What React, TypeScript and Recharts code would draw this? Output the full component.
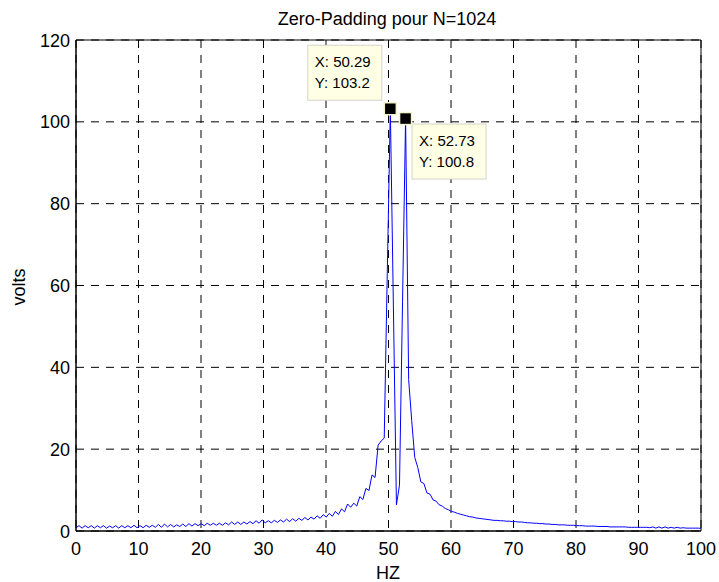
import { LineChart, Line, XAxis, YAxis, CartesianGrid, ReferenceDot, ReferenceArea } from "recharts";

// spectre FFT zero-padding, fs = 500 Hz, N = 1024 -> pas de 0.488 Hz
const FS = 500;
const N = 1024;
const HZ_STEP = FS / N;

const VOLTS = [
  0.8, 1.3, 0.7, 1.3, 0.8, 1.3, 0.7, 1.3, 0.8, 1.3,
  0.7, 1.2, 0.8, 1.3, 0.7, 1.3, 0.8, 1.3, 0.8, 1.4,
  0.8, 1.3, 0.8, 1.4, 0.9, 1.4, 0.9, 1.6, 0.9, 1.7,
  1.0, 1.6, 1.0, 1.5, 1.1, 1.7, 1.1, 1.8, 1.2, 1.8,
  1.3, 1.8, 1.3, 1.9, 1.4, 1.9, 1.4, 1.9, 1.4, 2.0,
  1.5, 2.2, 1.6, 2.2, 1.6, 2.2, 1.7, 2.3, 1.8, 2.5,
  1.9, 2.7, 2.0, 2.5, 2.0, 2.6, 2.1, 2.7, 2.2, 2.9,
  2.3, 3.0, 2.4, 3.1, 2.6, 3.3, 2.7, 3.4, 2.9, 3.7,
  3.1, 4.0, 3.4, 4.3, 3.6, 4.8, 4.0, 5.4, 4.7, 6.6,
  5.8, 6.8, 6.1, 8.4, 7.7, 10.4, 9.9, 13.7, 13.1, 21,
  22, 22.7, 63, 103.2, 55, 6.4, 11.2, 56, 100.8, 37,
  27, 18, 15.5, 12, 11.6, 9.3, 9.0, 7.6, 7.3, 6.4,
  6.1, 5.5, 5.2, 4.8, 4.6, 4.3, 4.1, 3.9, 3.7, 3.5,
  3.4, 3.2, 3.1, 3.0, 2.9, 2.8, 2.7, 2.6, 2.6, 2.5,
  2.5, 2.4, 2.4, 2.3, 2.3, 2.2, 2.2, 2.1, 2.0, 2.0,
  1.9, 1.9, 1.8, 1.8, 1.7, 1.7, 1.6, 1.6, 1.5, 1.5,
  1.5, 1.4, 1.4, 1.4, 1.3, 1.3, 1.3, 1.2, 1.2, 1.2,
  1.2, 1.1, 1.1, 1.1, 1.1, 1.0, 1.0, 1.0, 1.0, 1.0,
  1.0, 0.9, 0.9, 0.9, 0.9, 0.9, 0.9, 0.9, 0.8, 1.0,
  0.7, 1.0, 0.7, 1.0, 0.7, 0.9, 0.7, 0.9, 0.7, 0.8,
  0.7, 0.7, 0.7, 0.7, 0.7, 0.6,
];

const X_TICKS = [0, 10, 20, 30, 40, 50, 60, 70, 80, 90, 100];
const Y_TICKS = [0, 20, 40, 60, 80, 100, 120];

// data tips (curseur matlab)
const TIP_HZ = [50.29, 52.73];
const TIP_VOLTS = [103.2, 100.8];

const FONT = "'Liberation Sans', Arial, sans-serif";

const data = VOLTS.map((v, i) => ({ hz: i * HZ_STEP, volts: v }));

function XTick({ x, y, payload }: any) {
  return (
    <text x={x} y={y + 24} textAnchor="middle" fontSize={18} fontFamily={FONT} fill="#000">
      {payload.value}
    </text>
  );
}

function YTick({ x, y, payload }: any) {
  return (
    <text x={x - 6} y={y + 6.5} textAnchor="end" fontSize={18} fontFamily={FONT} fill="#000">
      {payload.value}
    </text>
  );
}

function tipShape(i: number) {
  return (props: any) => {
    const { cx, cy } = props;
    const bx = i === 0 ? cx - 82.5 : cx + 6.5;
    const by = i === 0 ? cy - 63.5 : cy + 5.5;
    return (
      <g>
        <rect x={bx} y={by} width={74} height={55} fill="#ffffe6" stroke="#d4d4c8" strokeWidth={1} />
        <text x={bx + 7} y={by + 22} fontSize={15} fontFamily={FONT} fill="#000">
          {`X: ${TIP_HZ[i]}`}
        </text>
        <text x={bx + 7} y={by + 42.5} fontSize={15} fontFamily={FONT} fill="#000">
          {`Y: ${TIP_VOLTS[i]}`}
        </text>
        <rect x={cx - 6} y={cy - 6} width={12} height={12} fill="#000" stroke="#f4f4cc" strokeWidth={1.5} />
      </g>
    );
  };
}

export default function App() {
  return (
    <div style={{ position: "absolute", left: 0, top: 0, background: "#fff" }}>
      <LineChart width={719} height={582} data={data} margin={{ top: 40, right: 18, bottom: 0, left: 0 }}>
        <CartesianGrid stroke="#000" strokeDasharray="8 7" />
        <XAxis
          dataKey="hz"
          type="number"
          domain={[0, 100]}
          ticks={X_TICKS}
          allowDataOverflow
          height={51}
          tickSize={0}
          tickMargin={0}
          tick={<XTick />}
          axisLine={{ stroke: "#000" }}
        />
        <YAxis
          type="number"
          domain={[0, 120]}
          ticks={Y_TICKS}
          width={76}
          tickSize={0}
          tickMargin={0}
          tick={<YTick />}
          axisLine={{ stroke: "#000" }}
        />
        <ReferenceArea x1={0} x2={100} y1={0} y2={120} fill="none" stroke="#000" strokeWidth={1} />
        <Line dataKey="volts" type="linear" stroke="#0000ff" strokeWidth={1} dot={false} isAnimationActive={false} />
        {TIP_HZ.map((hz, i) => (
          <ReferenceDot key={i} x={hz} y={TIP_VOLTS[i]} r={6} shape={tipShape(i)} />
        ))}
        <text x={387} y={25} textAnchor="middle" fontSize={18} fontFamily={FONT} fill="#000">
          Zero-Padding pour N=1024
        </text>
        <text x={388} y={579} textAnchor="middle" fontSize={18} fontFamily={FONT} fill="#000">
          HZ
        </text>
        <text x={25} y={287} textAnchor="middle" fontSize={18} fontFamily={FONT} fill="#000" transform="rotate(-90 25 287)">
          volts
        </text>
      </LineChart>
    </div>
  );
}
